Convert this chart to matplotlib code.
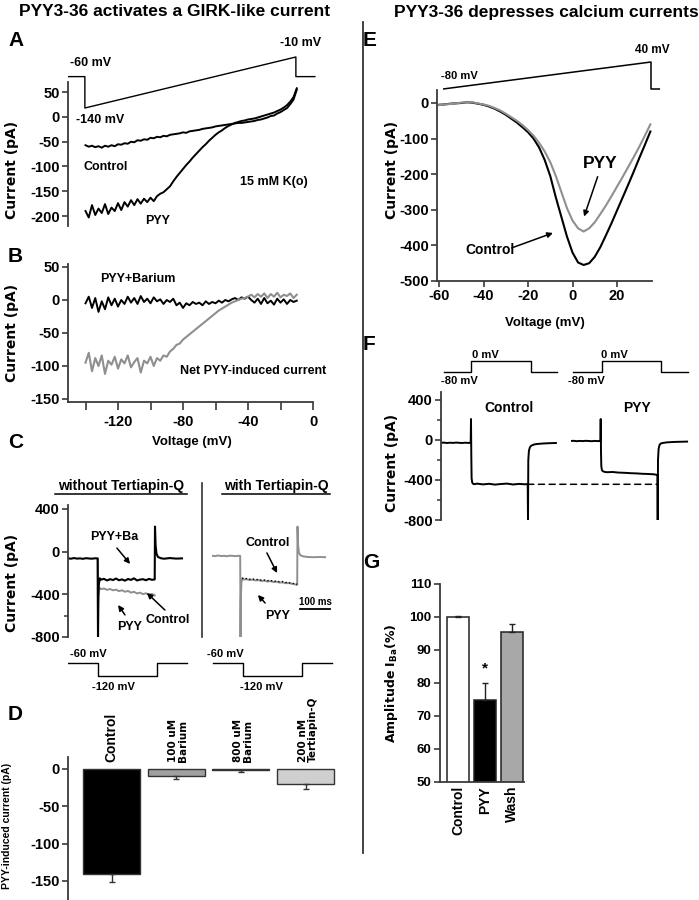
import matplotlib
matplotlib.use('Agg')
import matplotlib.pyplot as plt
from matplotlib.lines import Line2D
from matplotlib.patches import ConnectionPatch

plt.rcParams['font.family'] = ['Liberation Sans', 'DejaVu Sans']
plt.rcParams['font.weight'] = 'bold'
plt.rcParams['axes.labelweight'] = 'bold'
plt.rcParams['mathtext.default'] = 'bf'
plt.rcParams['axes.unicode_minus'] = False

# ======================= DATA =======================
# Panel A / B : ramp I-V (voltage in mV, current in pA)
ramp_v = [-140, -138, -136, -134, -132, -130, -128, -126, -124, -122,
          -120, -118, -116, -114, -112, -110, -108, -106, -104, -102,
          -100, -98, -96, -94, -92, -90, -88, -86, -84, -82,
          -80, -78, -76, -74, -72, -70, -68, -66, -64, -62,
          -60, -58, -56, -54, -52, -50, -48, -46, -44, -42,
          -40, -38, -36, -34, -32, -30, -28, -26, -24, -22,
          -20, -18, -16, -14, -12, -10]
ctrl_A = [-57, -60, -58, -61, -59, -62, -58, -60, -57, -59,
          -55, -56, -53, -54, -50, -51, -47, -48, -45, -46,
          -42, -43, -40, -41, -38, -39, -36, -35, -34, -33,
          -31, -32, -29, -28, -27, -26, -24, -23, -22, -21,
          -19, -18, -17, -16, -15, -14, -13, -12, -12, -11,
          -10, -9, -8, -6, -5, -3, -1, 2, 3, 7,
          10, 14, 18, 26, 35, 55]
pyy_A = [-190, -203, -178, -198, -185, -194, -176, -196, -183, -190,
         -174, -188, -172, -181, -168, -178, -166, -175, -165, -172,
         -163, -170, -160, -155, -152, -146, -140, -130, -121, -113,
         -105, -97, -90, -82, -75, -68, -61, -55, -48, -42,
         -36, -31, -27, -22, -18, -15, -12, -10, -8, -7,
         -5, -4, -3, -1, 1, 3, 5, 7, 9, 12,
         15, 19, 24, 31, 40, 58]
ba_B = [-5, 5, -12, 3, -18, -2, -14, 4, -8, 2,
        -10, 0, -6, 5, -4, 3, -6, 6, -3, 2,
        -5, 4, -2, 1, -6, 0, -3, 2, -8, -4,
        -12, -5, -8, -3, -6, -4, -8, -2, -6, -3,
        -5, -1, -4, 0, -2, 1, 3, 0, 4, 2,
        5, 0, -4, 2, -6, 3, -5, -1, -7, 2,
        -4, 1, -6, 0, -3, -1]
net_B = [-95, -80, -108, -88, -100, -84, -112, -92, -98, -86,
         -104, -90, -96, -84, -102, -94, -88, -110, -92, -96,
         -86, -100, -88, -92, -84, -86, -78, -74, -68, -66,
         -60, -56, -52, -48, -44, -40, -36, -32, -28, -24,
         -20, -16, -13, -10, -7, -4, -2, 0, 2, 3,
         5, 8, 4, 9, 5, 10, 3, 9, 5, 11,
         4, 8, 6, 10, 3, 8]
B_xticks = [-140, -120, -100, -80, -60, -40, -20, 0]
B_xticklabels = ['', '-120', '', '-80', '', '-40', '', '0']

# Panel C : current traces (time in ms, current in pA)
tC_left = [0, 10, 20, 30, 40, 50, 60, 70, 80, 90, 99, 100, 101, 103, 106, 110,
           120, 130, 140, 150, 160, 170, 180, 190, 200, 210, 220, 230, 240, 250, 260, 270, 280,
           289, 290, 292, 295, 300, 310, 320, 340, 360, 380]
ba_C_left = [-62, -66, -60, -65, -63, -67, -61, -64, -66, -62, -64, -800, -420, -300, -250, -262,
             -255, -270, -258, -266, -252, -268, -260, -272, -256, -265, -250, -270, -262, -258, -268, -255, -264,
             -260, 235, 60, -20, -50, -62, -66, -60, -65, -63]
tC_left_pyy = [99, 100, 101, 103, 106, 110,
               120, 130, 140, 150, 160, 170, 180, 190, 200, 210, 220, 230, 240, 250, 260, 270, 280, 289]
pyy_C_left = [-64, -800, -480, -360, -340, -352,
              -345, -358, -350, -362, -356, -370, -362, -376, -368, -384, -376, -392, -384, -398, -390, -404, -396, -410]
tC_right = [0, 10, 20, 30, 40, 50, 60, 70, 80, 90, 94, 95, 96, 98, 101, 105,
            115, 125, 135, 145, 155, 165, 175, 185, 195, 205, 215, 225, 235, 245, 255, 265, 275,
            284, 285, 287, 290, 295, 305, 320, 340, 360, 377]
pyy_C_right = [-38, -42, -36, -41, -39, -43, -37, -40, -42, -38, -40, -800, -450, -290, -250, -262,
               -258, -266, -262, -270, -266, -275, -272, -280, -276, -285, -282, -290, -288, -296, -294, -300, -305,
               -312, 235, 60, -10, -35, -45, -50, -52, -50, -52]
tC_right_ctrl = [101, 105, 115, 125, 135, 145, 155, 165, 175, 185, 195, 205, 215, 225, 235, 245, 255, 265, 275, 284]
ctrl_C_right = [-245, -255, -252, -258, -256, -262, -260, -268, -266, -272,
                -270, -278, -276, -282, -280, -288, -290, -296, -300, -306]
scalebar_ms = 100

# Voltage protocols (time in ms, voltage in mV)
protA_t = [0, 40, 40, 540, 540, 585]
protA_v = [-60, -60, -140, -10, -60, -60]
protC_left_t = [0, 100, 100, 297, 297, 397]
protC_right_t = [3, 103, 103, 300, 300, 400]
protC_v = [-60, -60, -120, -120, -60, -60]
protE_t = [0, 100, 100, 104]
protE_v = [-80, 40, -80, -80]
protF_left_t = [10, 100, 100, 300, 300, 385]
protF_right_t = [8, 105, 105, 300, 300, 390]
protF_v = [-80, -80, 0, 0, -80, -80]

# Panel D : PYY-induced current (pA)
D_labels = ['Control', '100 uM\nBarium', '800 uM\nBarium', '200 nM\nTertiapin-Q']
D_vals = [-141, -9, -2, -20]
D_err = [11, 4, 2, 7]

# Panel E : Ca ramp I-V
ivE_v = [-60, -57.5, -55, -52.5, -50, -47.5, -45, -42.5, -40, -37.5, -35, -32.5, -30,
         -27.5, -25, -22.5, -20, -17.5, -15, -12.5, -10, -7.5, -5, -2.5, 0, 2.5, 5,
         7.5, 10, 12.5, 15, 17.5, 20, 22.5, 25, 27.5, 30, 32.5, 35]
ctrl_E = [-5, -4, -2, -1, 0, 2, 1, -2, -5, -10, -16, -24, -33,
          -44, -55, -68, -82, -100, -125, -160, -205, -265, -320, -375, -420, -448, -455,
          -450, -432, -405, -372, -338, -302, -266, -230, -193, -155, -118, -80]
pyy_E = [-6, -4, -3, -1, 1, 2, 2, -1, -4, -8, -14, -21, -30,
         -40, -50, -62, -76, -92, -112, -136, -166, -205, -250, -295, -330, -352, -361,
         -352, -335, -312, -288, -262, -235, -208, -180, -152, -123, -92, -60]

# Panel F : Ba current traces
tF_left = [0, 10, 20, 30, 40, 50, 60, 70, 80, 90, 99, 100, 101, 102, 104, 107, 112,
           120, 140, 160, 180, 200, 220, 240, 260, 280, 289, 290, 291, 293, 296, 300, 310, 320, 340, 360, 383]
ctrl_F = [-28, -26, -30, -27, -29, -26, -28, -30, -27, -29, -28, 210, -150, -380, -425, -438, -442,
          -436, -444, -438, -446, -440, -436, -445, -439, -443, -440, -805, -200, -110, -75, -58, -45, -40, -35, -32, -30]
tF_right = [0, 10, 20, 30, 40, 50, 60, 70, 80, 90, 99, 100, 101, 102, 104, 107, 112,
            120, 140, 160, 180, 200, 220, 240, 260, 280, 289, 290, 291, 293, 296, 300, 310, 320, 340, 360, 388]
pyy_F = [-10, -8, -12, -9, -11, -8, -10, -12, -9, -11, -10, 210, -120, -260, -300, -312, -318,
         -322, -320, -326, -328, -332, -334, -338, -340, -344, -350, -805, -200, -90, -50, -35, -28, -24, -20, -18, -16]
ctrl_F_level = -443

# Panel G : amplitude I_Ba (%)
G_labels = ['Control', 'PYY', 'Wash']
G_vals = [100, 74.8, 95.3]
G_err = [0.3, 5.1, 2.5]

# ======================= FIGURE =======================
W, H = 699, 900
fig = plt.figure(figsize=(W / 100, H / 100), dpi=100)
fig.patch.set_facecolor('white')
SP = '#3a3a3a'
GRAY = '#8f8f8f'


def px_axes(left, right, top, bottom):
    return fig.add_axes([left / W, 1 - bottom / H, (right - left) / W, (bottom - top) / H])


def lims(p1, v1, p2, v2, lo, hi):
    k = (v2 - v1) / (p2 - p1)
    return (v1 + (lo - p1) * k, v1 + (hi - p1) * k)


def T(x, y, s, size=9, ha='left', va='center', **kw):
    return fig.text(x / W, 1 - y / H, s, fontsize=size, ha=ha, va=va, fontweight='bold', **kw)


def YL(x, y, s, size=10.5, family='DejaVu Sans'):
    return T(x, y, s, size=size, ha='center', va='center', rotation=90, family=family)


def hline_fig(x0, x1, y, **kw):
    fig.add_artist(Line2D([x0 / W, x1 / W], [1 - y / H, 1 - y / H], **kw))


def vline_fig(x, y0, y1, **kw):
    fig.add_artist(Line2D([x / W, x / W], [1 - y0 / H, 1 - y1 / H], **kw))


def left_axis(ax, yticks, labelsize=10.5, minor=None):
    for s in ('top', 'right', 'bottom'):
        ax.spines[s].set_visible(False)
    ax.spines['left'].set_color(SP)
    ax.spines['left'].set_linewidth(1.3)
    ax.set_yticks(yticks)
    if minor:
        ax.set_yticks(minor, minor=True)
    ax.tick_params(axis='y', which='major', direction='out', length=4.5, width=1.2,
                   color=SP, labelsize=labelsize, pad=1.5)
    ax.tick_params(axis='y', which='minor', direction='out', length=3, width=1.1, color=SP)
    ax.set_xticks([])
    ax.patch.set_alpha(0)


def bottom_axis(ax, xticks, labels=None, length=4.3, pad=1.5, labelsize=10.5):
    ax.spines['bottom'].set_visible(True)
    ax.spines['bottom'].set_color(SP)
    ax.spines['bottom'].set_linewidth(1.3)
    ax.set_xticks(xticks)
    if labels is not None:
        ax.set_xticklabels(labels)
    ax.tick_params(axis='x', direction='out', length=length, width=1.2, color=SP,
                   labelsize=labelsize, pad=pad)


def proto_axes(left, right, top, bottom, xlim, ylim):
    ax = px_axes(left, right, top, bottom)
    ax.set_xlim(*xlim)
    ax.set_ylim(*ylim)
    ax.axis('off')
    return ax


def arrow(ax, tail, tip):
    ax.annotate('', xy=tip, xytext=tail, xycoords='data', textcoords='data',
                arrowprops=dict(arrowstyle='-|>', color='k', lw=1.1, mutation_scale=8,
                                shrinkA=0, shrinkB=0),
                annotation_clip=False)


# ---- titles & divider ----
T(175, 12, 'PYY3-36 activates a GIRK-like current', size=12.5, ha='center')
T(546, 12, 'PYY3-36 depresses calcium currents', size=12.5, ha='center')
vline_fig(363, 22, 853, color='#333333', lw=1.3)

# ---- Panel A ----
axA = px_axes(68, 330, 82, 226)
axA.set_xlim(*lims(118, -120, 313, 0, 68, 330))
axA.set_ylim(*lims(117, 0, 216, -200, 226, 82))
left_axis(axA, [50, 0, -50, -100, -150, -200])
axA.plot(ramp_v, ctrl_A, color='k', lw=1.4)
axA.plot(ramp_v, pyy_A, color='k', lw=1.4)
YL(12, 170, 'Current (pA)', size=10)
axAp = proto_axes(68, 330, 40, 115, lims(68, 0, 279, 500, 68, 330), lims(108, -140, 57, -10, 115, 40))
axAp.plot(protA_t, protA_v, color='k', lw=1.0)
T(8, 40, 'A', size=15)
T(70, 63, '-60 mV', size=9)
T(280, 43, '-10 mV', size=9)
T(76, 120, '-140 mV', size=9)
T(83, 167, 'Control', size=9)
T(240, 182, '15 mM K(o)', size=9)
T(145, 221, 'PYY', size=9)

# ---- Panel B ----
axB = px_axes(68, 313, 264, 401.7)
axB.set_xlim(*lims(118, -120, 313, 0, 68, 313))
axB.set_ylim(*lims(300, 0, 399, -150, 401.7, 264))
left_axis(axB, [50, 0, -50, -100, -150])
bottom_axis(axB, B_xticks, B_xticklabels, length=5.8, pad=4)
axB.plot(ramp_v, ba_B, color='k', lw=1.4)
axB.plot(ramp_v, net_B, color=GRAY, lw=1.5)
YL(12, 333, 'Current (pA)', size=10)
T(192, 442, 'Voltage (mV)', size=9.5, ha='center')
T(8, 257, 'B', size=15)
T(100, 279, 'PYY+Barium', size=9)
T(180, 371, 'Net PYY-induced current', size=9)

# ---- Panel C ----
c_ylim = lims(509, 400, 637, -800, 637, 505)
axC1 = px_axes(68, 200, 505, 637)
axC1.set_xlim(*lims(68, 0, 98, 100, 68, 200))
axC1.set_ylim(*c_ylim)
left_axis(axC1, [400, 0, -400, -800], minor=[-600])
axC1.plot(tC_left_pyy, pyy_C_left, color=GRAY, lw=1.4)
axC1.plot(tC_left, ba_C_left, color='k', lw=1.5)
axC2 = px_axes(212, 340, 505, 637)
axC2.set_xlim(*lims(212, 0, 242, 100, 212, 340))
axC2.set_ylim(*c_ylim)
axC2.axis('off')
axC2.plot(tC_right, pyy_C_right, color=GRAY, lw=1.4)
axC2.plot(tC_right_ctrl, ctrl_C_right, color='k', lw=1.0, ls=':')
axC2.plot([293, 293 + scalebar_ms], [-534, -534], color='k', lw=1.3)
T(315, 602, '100 ms', size=7, ha='center')
YL(12, 583, 'Current (pA)', size=10)
T(8, 443, 'C', size=15)
T(121, 486, 'without Tertiapin-Q', size=10, ha='center')
hline_fig(55, 187, 494, color='k', lw=1.1)
T(276, 486, 'with Tertiapin-Q', size=10, ha='center')
hline_fig(222, 330, 494, color='k', lw=1.1)
vline_fig(202, 483, 637, color='#333333', lw=1.2)
T(90, 537, 'PYY+Ba', size=9)
T(145, 620, 'Control', size=9)
T(117, 627, 'PYY', size=9)
T(245, 543, 'Control', size=9)
T(265, 616, 'PYY', size=9)
arrow(axC1, (163, 34), (207, -115))
arrow(axC1, (323, -547), (263, -387))
arrow(axC1, (190, -593), (167, -500))
arrow(axC2, (183, -12), (217, -200))
arrow(axC2, (177, -481), (153, -406))
p_ylim = lims(663, -60, 676, -120, 692, 645)
axCp1 = proto_axes(68, 200, 645, 692, lims(68, 0, 98, 100, 68, 200), p_ylim)
axCp1.plot(protC_left_t, protC_v, color='k', lw=1.0)
axCp2 = proto_axes(212, 340, 645, 692, lims(212, 0, 242, 100, 212, 340), p_ylim)
axCp2.plot(protC_right_t, protC_v, color='k', lw=1.0)
T(70, 654, '-60 mV', size=8)
T(92, 687, '-120 mV', size=8)
T(207, 654, '-60 mV', size=8)
T(240, 687, '-120 mV', size=8)

# ---- Panel D ----
axD = px_axes(68, 340, 757, 900)
axD.set_xlim(*lims(111.5, 0, 176.2, 1, 68, 340))
axD.set_ylim(*lims(769, 0, 881, -150, 900, 757))
left_axis(axD, [0, -50, -100, -150])
xD = list(range(len(D_vals)))
axD.bar(xD, D_vals, width=0.88, color=['#000000', '#a0a0a0', '#1a1a1a', '#cfcfcf'],
        edgecolor='#333333', linewidth=1.0)
axD.errorbar(xD, D_vals, yerr=[D_err, [0] * len(D_err)], fmt='none', ecolor='#333333',
             elinewidth=1.0, capsize=2.5, capthick=1.0)
for i, lab in enumerate(D_labels):
    if i == 0:
        axD.text(i, 9.4, lab, rotation=90, ha='center', va='bottom', fontsize=10,
                 fontweight='bold', clip_on=False)
    else:
        axD.text(i + 0.03, 9.4, lab, rotation=90, ha='center', va='bottom', fontsize=7.5,
                 fontweight='bold', family='DejaVu Sans', multialignment='left',
                 linespacing=1.0, clip_on=False)
YL(7, 826, 'PYY-induced current (pA)', size=7.5, family='Liberation Sans')
T(8, 715, 'D', size=15)

# ---- Panel E ----
axE = px_axes(437, 652, 90, 281)
axE.set_xlim(*lims(439, -60, 617, 20, 437, 652))
axE.set_ylim(*lims(103, 0, 281, -500, 281, 90))
left_axis(axE, [0, -100, -200, -300, -400, -500])
bottom_axis(axE, [-60, -40, -20, 0, 20])
axE.plot(ivE_v, ctrl_E, color='k', lw=1.5)
axE.plot(ivE_v, pyy_E, color=GRAY, lw=1.5)
arrow(axE, (11.3, -207), (5.2, -319))
arrow(axE, (-27.3, -407), (-8.8, -365))
axEp = proto_axes(443, 662, 50, 95, lims(443, 0, 651, 100, 443, 662), lims(89, -80, 62, 40, 95, 50))
axEp.plot(protE_t, protE_v, color='k', lw=1.1)
YL(392, 170, 'Current (pA)', size=10)
T(545, 323, 'Voltage (mV)', size=9.5, ha='center')
T(363, 40, 'E', size=15)
T(441, 76, '-80 mV', size=8)
T(635, 50, '40 mV', size=8.5)
T(583, 163, 'PYY', size=12.5)
T(465, 250, 'Control', size=10)

# ---- Panel F ----
f_ylim = lims(400, 400, 520, -800, 520, 392)
axF1 = px_axes(441, 565, 392, 520)
axF1.set_xlim(*lims(441, 0, 471, 100, 441, 565))
axF1.set_ylim(*f_ylim)
left_axis(axF1, [400, 0, -400, -800], minor=[200, -200, -600])
axF1.plot(tF_left, ctrl_F, color='k', lw=1.4)
axF2 = px_axes(570.7, 695, 392, 520)
axF2.set_xlim(*lims(570.7, 0, 600.7, 100, 570.7, 695))
axF2.set_ylim(*f_ylim)
axF2.axis('off')
axF2.plot(tF_right, pyy_F, color='k', lw=1.4)
con = ConnectionPatch(xyA=(289, ctrl_F_level), coordsA=axF1.transData,
                      xyB=(289, ctrl_F_level), coordsB=axF2.transData,
                      color='k', lw=1.1, linestyle=(0, (4, 3)))
fig.add_artist(con)
fp_ylim = lims(371.7, -80, 361, 0, 385, 350)
axFp1 = proto_axes(441, 565, 350, 385, lims(441, 0, 471, 100, 441, 565), fp_ylim)
axFp1.plot(protF_left_t, protF_v, color='k', lw=1.0)
axFp2 = proto_axes(570.7, 695, 350, 385, lims(570.7, 0, 600.7, 100, 570.7, 695), fp_ylim)
axFp2.plot(protF_right_t, protF_v, color='k', lw=1.0)
YL(392, 463, 'Current (pA)', size=10)
T(363, 345, 'F', size=15)
T(472, 355, '0 mV', size=8)
T(441, 381, '-80 mV', size=8)
T(601, 355, '0 mV', size=8)
T(568, 381, '-80 mV', size=8)
T(484, 408, 'Control', size=10)
T(623, 408, 'PYY', size=10)

# ---- Panel G ----
axG = px_axes(440, 524, 584, 781.7)
axG.set_xlim(*lims(458, 0, 484.8, 1, 440, 524))
axG.set_ylim(50, 110)
left_axis(axG, [50, 60, 70, 80, 90, 100, 110], labelsize=9.5)
xG = list(range(len(G_vals)))
bottom_axis(axG, xG, G_labels, length=0, pad=3, labelsize=10)
for lab in axG.get_xticklabels():
    lab.set_rotation(90)
axG.bar(xG, G_vals, width=0.82, color=['white', 'black', '#a8a8a8'], edgecolor='#222222', linewidth=1.1)
axG.errorbar(xG, G_vals, yerr=[[0] * len(G_err), G_err], fmt='none', ecolor='#222222',
             elinewidth=1.0, capsize=2.5, capthick=1.0)
axG.text(1, 84.3, '*', ha='center', va='center', fontsize=11)
YL(392, 683, 'Amplitude I$_{Ba}$(%)', size=9)
T(363, 563, 'G', size=15)

fig.savefig('out.png', dpi=100, facecolor='white')
